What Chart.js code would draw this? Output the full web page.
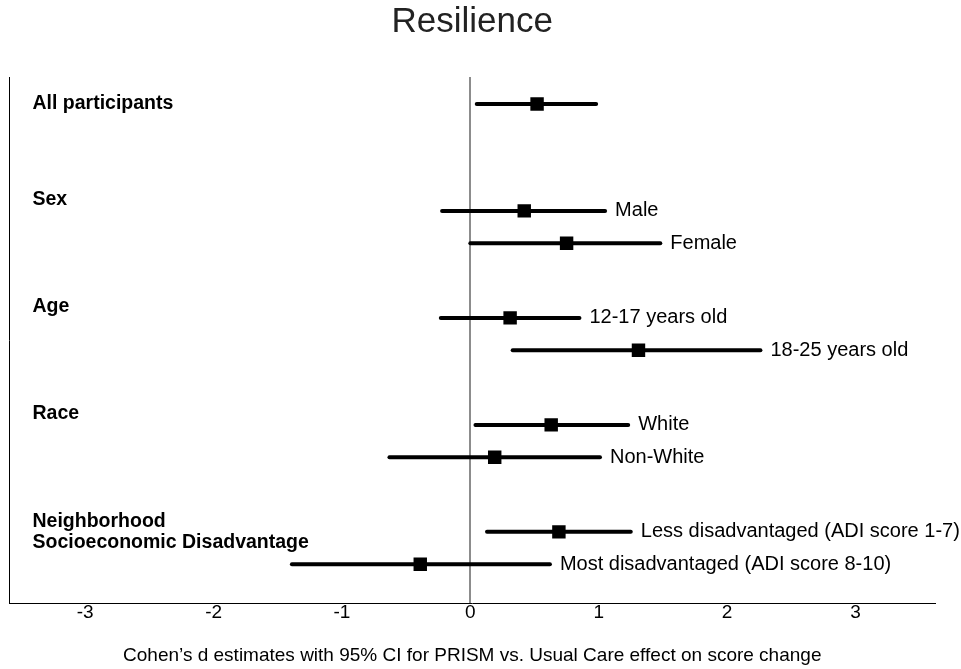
<!DOCTYPE html>
<html>
<head>
<meta charset="utf-8">
<script src="https://cdn.jsdelivr.net/npm/chart.js@4"></script>
<style>
  html, body { margin: 0; padding: 0; background: #fff; }
  #wrap { width: 961px; height: 669px; }
</style>
</head>
<body>
<div id="wrap"><canvas id="chart"></canvas></div>
<script>
// subgroup rows, top to bottom
const subLabels = ['', 'Male', 'Female', '12-17 years old', '18-25 years old', 'White', 'Non-White',
    'Less disadvantaged (ADI score 1-7)', 'Most disadvantaged (ADI score 8-10)'];
const rowPos = [0, 3.3, 4.3, 6.6, 7.6, 9.9, 10.9, 13.2, 14.2];
const estimates = [0.52, 0.42, 0.75, 0.31, 1.31, 0.63, 0.19, 0.69, -0.39];
const ciLow = [0.05, -0.22, 0.00, -0.23, 0.33, 0.04, -0.63, 0.13, -1.39];
const ciHigh = [0.98, 1.05, 1.48, 0.85, 2.26, 1.23, 1.01, 1.25, 0.62];

// group headings and the row they belong to
const groupLabels = [['All participants'], ['Sex'], ['Age'], ['Race'], ['Neighborhood', 'Socioeconomic Disadvantage']];
const groupFirstRow = [0, 1, 3, 5, 7];

const tickVals = [-3, -2, -1, 0, 1, 2, 3];

const datasets = [];
for (let i = 0; i < rowPos.length; i++) {
    datasets.push({
        type: 'scatter',
        data: [{x: ciLow[i], y: rowPos[i]}, {x: ciHigh[i], y: rowPos[i]}],
        showLine: true,
        borderColor: '#000',
        borderWidth: 4,
        borderCapStyle: 'round',
        pointRadius: 0
    });
}
datasets.push({
    type: 'scatter',
    data: estimates.map((v, i) => ({x: v, y: rowPos[i]})),
    pointStyle: 'rect',
    pointRadius: 9.5,
    backgroundColor: '#000',
    borderColor: '#000',
    borderWidth: 0
});

const labelPlugin = {
    id: 'labels',
    afterDatasetsDraw(chart) {
        const ctx = chart.ctx;
        const xs = chart.scales.x, ys = chart.scales.y;
        ctx.save();
        ctx.fillStyle = '#000';
        ctx.textBaseline = 'middle';
        ctx.font = '20px "Liberation Sans", Arial, sans-serif';
        ctx.textAlign = 'left';
        subLabels.forEach((t, i) => {
            if (!t) return;
            ctx.fillText(t, xs.getPixelForValue(ciHigh[i]) + 10, ys.getPixelForValue(rowPos[i]));
        });
        ctx.font = 'bold 19.5px "Liberation Sans", Arial, sans-serif';
        groupLabels.forEach((lines, g) => {
            const r = groupFirstRow[g];
            let y = ys.getPixelForValue(rowPos[r]);
            if (lines.length > 1) y -= (lines.length - 1) * 10.5;
            else if (subLabels[r]) y -= 11;
            lines.forEach((ln, k) => ctx.fillText(ln, chart.chartArea.left + 23, y + k * 21));
        });
        ctx.restore();
    }
};

const chart = new Chart(document.getElementById('chart'), {
    type: 'scatter',
    data: {datasets: datasets},
    options: {
        responsive: true,
        maintainAspectRatio: false,
        animation: false,
        layout: {padding: {left: 0, right: 26, top: 0, bottom: 2}},
        plugins: {
            legend: {display: false},
            tooltip: {enabled: false},
            title: {
                display: true,
                text: 'Resilience',
                fullSize: false,
                color: '#222',
                font: {family: '"Liberation Sans", Arial, sans-serif', size: 35, weight: 'normal'},
                padding: {top: 1, bottom: 34}
            }
        },
        scales: {
            x: {
                type: 'linear',
                min: -3.59,
                max: 3.62,
                afterBuildTicks: axis => { axis.ticks = tickVals.map(v => ({value: v})); },
                grid: {
                    drawTicks: false,
                    lineWidth: 2,
                    color: c => (c.tick && c.tick.value === 0) ? '#8c8c8c' : 'rgba(0,0,0,0)'
                },
                border: {display: true, color: '#000', width: 1},
                ticks: {
                    color: '#000',
                    padding: 0,
                    font: {family: '"Liberation Sans", Arial, sans-serif', size: 19, lineHeight: 1}
                },
                title: {
                    display: true,
                    text: 'Cohen\u2019s d estimates with 95% CI for PRISM vs. Usual Care effect on score change',
                    color: '#000',
                    font: {family: '"Liberation Sans", Arial, sans-serif', size: 19},
                    padding: {top: 22, bottom: 0}
                }
            },
            y: {
                type: 'linear',
                reverse: true,
                min: -0.83,
                max: 15.4,
                afterFit: axis => { axis.width = 1; },
                grid: {display: false, drawTicks: false},
                border: {display: true, color: '#000', width: 1},
                ticks: {display: false}
            }
        }
    },
    plugins: [labelPlugin]
});
</script>
</body>
</html>
